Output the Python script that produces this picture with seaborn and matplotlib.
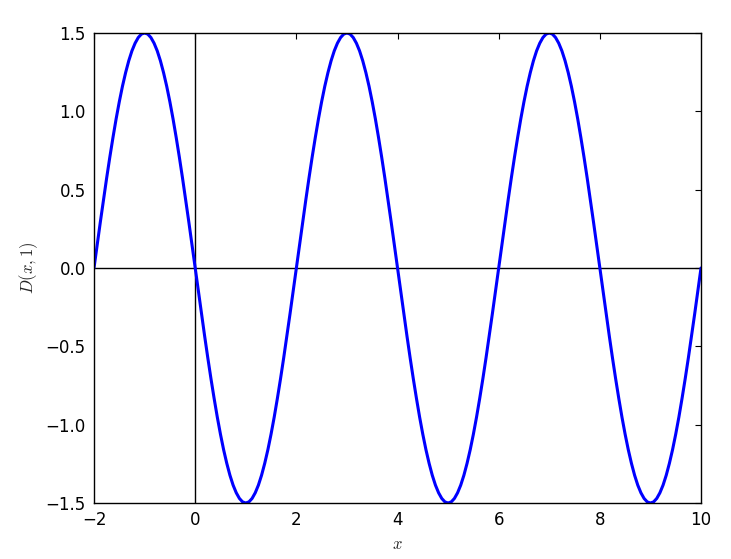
import numpy as np
import pandas as pd
import seaborn as sns
import matplotlib
matplotlib.use("Agg")
import matplotlib.pyplot as plt

# x positions every 1/16 from -2 to 10
x_start, x_step, n_points = -2.0, 0.0625, 193

# D(x, 1) values, one half-wave per line
d_values = [
    0.0, 0.147, 0.293, 0.435, 0.574, 0.707, 0.833, 0.952, 1.061, 1.160, 1.247, 1.323, 1.386, 1.435, 1.471, 1.493,
    1.5, 1.493, 1.471, 1.435, 1.386, 1.323, 1.247, 1.160, 1.061, 0.952, 0.833, 0.707, 0.574, 0.435, 0.293, 0.147,
    0.0, -0.147, -0.293, -0.435, -0.574, -0.707, -0.833, -0.952, -1.061, -1.160, -1.247, -1.323, -1.386, -1.435, -1.471, -1.493,
    -1.5, -1.493, -1.471, -1.435, -1.386, -1.323, -1.247, -1.160, -1.061, -0.952, -0.833, -0.707, -0.574, -0.435, -0.293, -0.147,
    0.0, 0.147, 0.293, 0.435, 0.574, 0.707, 0.833, 0.952, 1.061, 1.160, 1.247, 1.323, 1.386, 1.435, 1.471, 1.493,
    1.5, 1.493, 1.471, 1.435, 1.386, 1.323, 1.247, 1.160, 1.061, 0.952, 0.833, 0.707, 0.574, 0.435, 0.293, 0.147,
    0.0, -0.147, -0.293, -0.435, -0.574, -0.707, -0.833, -0.952, -1.061, -1.160, -1.247, -1.323, -1.386, -1.435, -1.471, -1.493,
    -1.5, -1.493, -1.471, -1.435, -1.386, -1.323, -1.247, -1.160, -1.061, -0.952, -0.833, -0.707, -0.574, -0.435, -0.293, -0.147,
    0.0, 0.147, 0.293, 0.435, 0.574, 0.707, 0.833, 0.952, 1.061, 1.160, 1.247, 1.323, 1.386, 1.435, 1.471, 1.493,
    1.5, 1.493, 1.471, 1.435, 1.386, 1.323, 1.247, 1.160, 1.061, 0.952, 0.833, 0.707, 0.574, 0.435, 0.293, 0.147,
    0.0, -0.147, -0.293, -0.435, -0.574, -0.707, -0.833, -0.952, -1.061, -1.160, -1.247, -1.323, -1.386, -1.435, -1.471, -1.493,
    -1.5, -1.493, -1.471, -1.435, -1.386, -1.323, -1.247, -1.160, -1.061, -0.952, -0.833, -0.707, -0.574, -0.435, -0.293, -0.147,
    0.0,
]

x_ticks = [-2, 0, 2, 4, 6, 8, 10]
y_ticks = [-1.5, -1.0, -0.5, 0.0, 0.5, 1.0, 1.5]

df = pd.DataFrame({"x": x_start + x_step * np.arange(n_points), "D": d_values})

sns.set_style("white")
plt.rcParams.update({
    "font.family": ["DejaVu Sans"],
    "mathtext.fontset": "cm",
    "xtick.direction": "in",
    "ytick.direction": "in",
    "xtick.top": True,
    "ytick.right": True,
    "xtick.major.size": 4,
    "ytick.major.size": 4,
    "xtick.labelsize": 12,
    "ytick.labelsize": 12,
    "axes.edgecolor": "black",
    "axes.linewidth": 1.0,
})

fig = plt.figure(figsize=(7.31, 5.59), dpi=100)
ax = fig.add_axes([94 / 731, 1 - 503 / 559, (701 - 94) / 731, (503 - 33) / 559])

ax.axhline(0, color="black", lw=1)
ax.axvline(0, color="black", lw=1)
sns.lineplot(data=df, x="x", y="D", ax=ax, color="blue", lw=2.2, sort=False)

ax.set_xlim(-2, 10)
ax.set_ylim(-1.5, 1.5)
ax.set_xticks(x_ticks)
ax.set_yticks(y_ticks)
ax.set_xticklabels([f"{t}" if t >= 0 else f"\u2212{abs(t)}" for t in x_ticks])
ax.set_yticklabels([f"{t:.1f}" if t >= 0 else f"\u2212{abs(t):.1f}" for t in y_ticks])
ax.tick_params(pad=6, colors="black")
ax.set_xlabel("$x$", fontsize=12)
ax.set_ylabel("$D(x,1)$", fontsize=12)

fig.savefig("out.png", dpi=100)
